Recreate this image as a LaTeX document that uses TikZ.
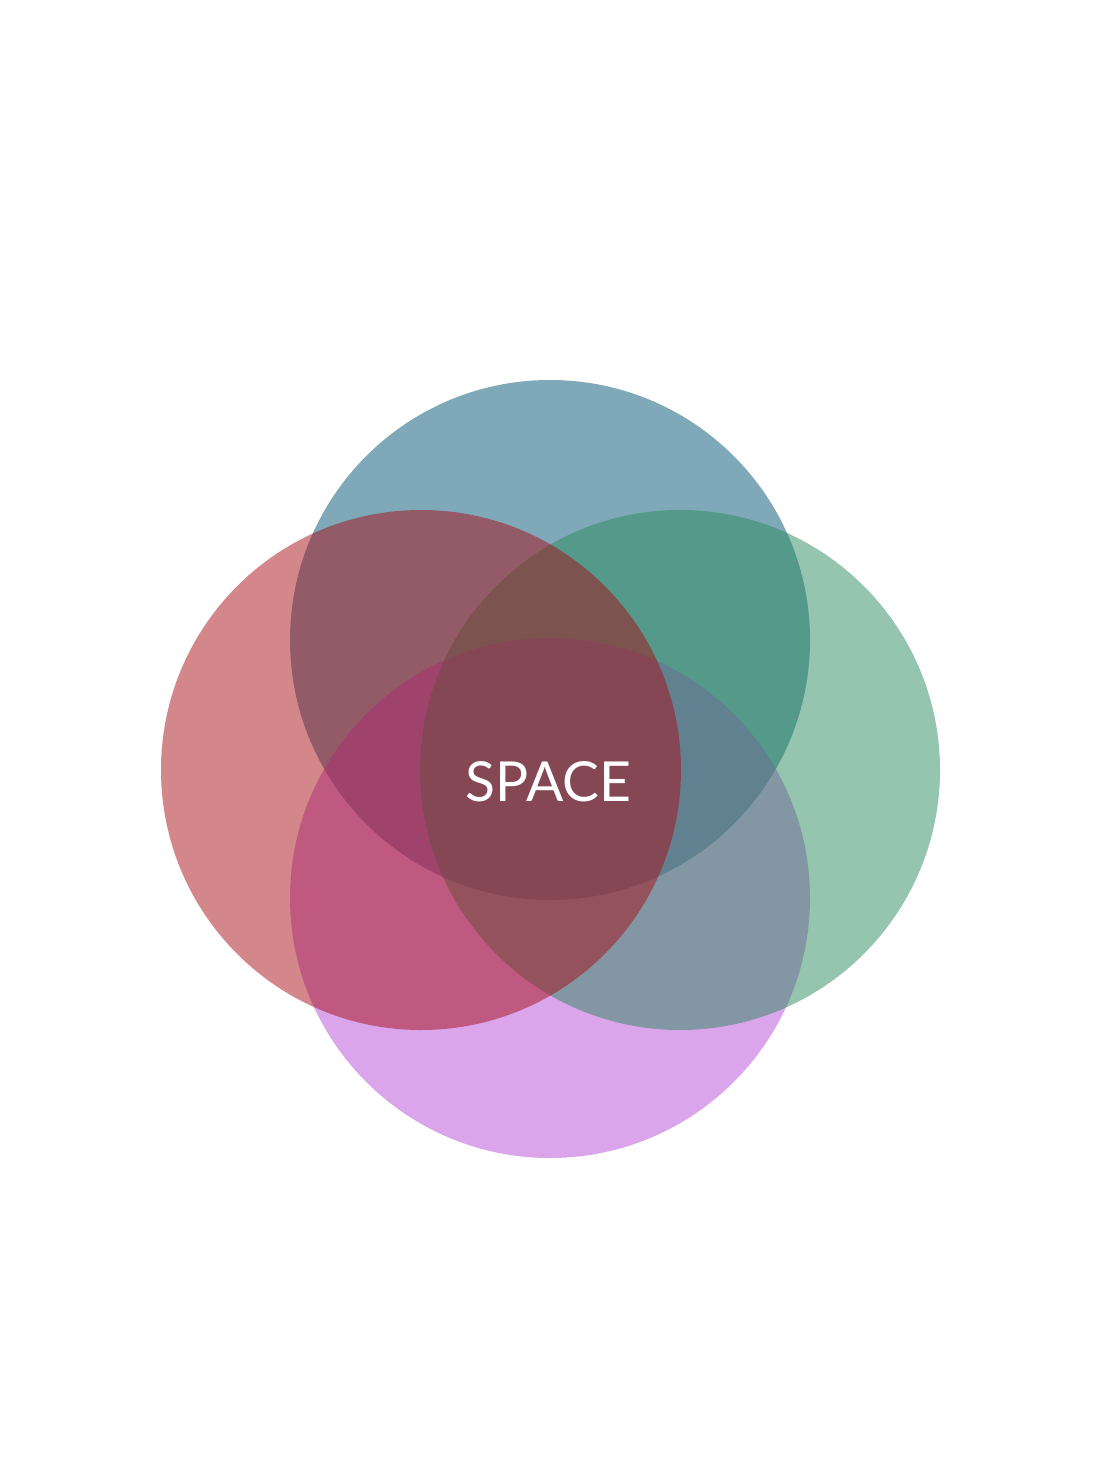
\documentclass[tikz,border=0pt]{standalone}
\usepackage{fontspec}
\setmainfont{Lato}
\definecolor{topblue}{RGB}{0,81,113}
\definecolor{bottompurple}{RGB}{181,75,213}
\definecolor{rightgreen}{RGB}{43,139,93}
\definecolor{leftred}{RGB}{167,15,23}
\begin{document}
\begin{tikzpicture}[petal/.style={circle, minimum size=5.2cm, inner sep=0pt, fill opacity=0.5}]
  \useasboundingbox (0,0) rectangle (11,-14.67);
  \node[petal, fill=topblue](top) at (5.5,-6.4){};
  \node[petal, fill=bottompurple](bottom) at (5.5,-8.98){};
  \node[petal, fill=rightgreen](right) at (6.8,-7.7){};
  \node[petal, fill=leftred](left) at (4.21,-7.7){};

  \node[text=white, font=\fontsize{15.7}{18}\selectfont](space) at (5.485,-7.82){SPACE};
\end{tikzpicture}
\end{document}
